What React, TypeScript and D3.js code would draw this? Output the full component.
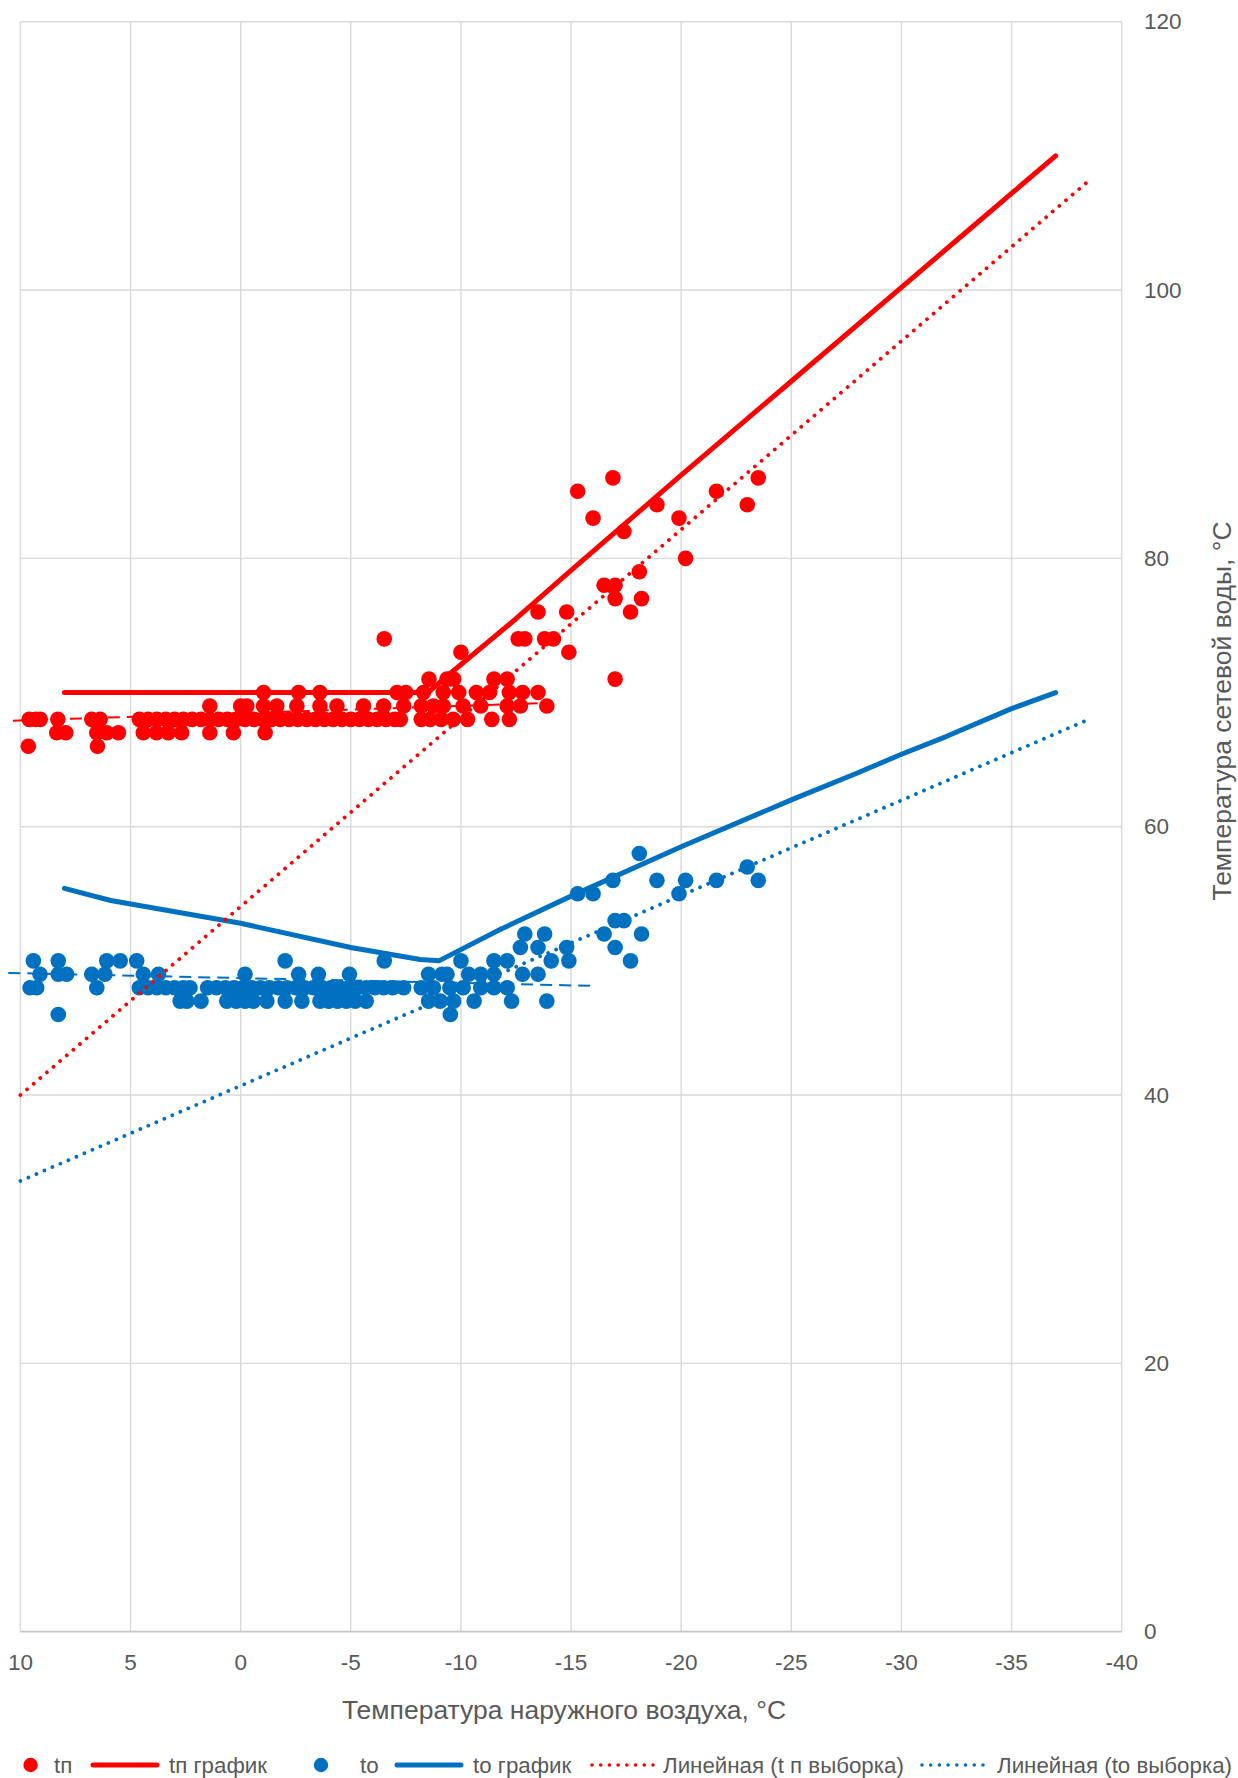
import React from "react";
import * as d3 from "d3";

// ---- Data ----
const X_TICKS = [10, 5, 0, -5, -10, -15, -20, -25, -30, -35, -40];
const Y_TICKS = [0, 20, 40, 60, 80, 100, 120];

// tп (supply water, measured sample) [outdoor t, water t]
const SUPPLY_POINTS: [number, number][] = [
  [9.64, 66], [6.5, 66],
  [8.35, 67], [7.94, 67], [6.53, 67], [6.08, 67], [5.55, 67], [4.42, 67], [3.82, 67], [3.29, 67], [2.68, 67], [1.4, 67], [0.33, 67], [-1.11, 67],
  [9.6, 68], [9.3, 68], [9.1, 68], [8.3, 68], [6.76, 68], [6.38, 68],
  [4.6, 68], [4.2, 68], [3.8, 68], [3.4, 68], [3.0, 68], [2.6, 68], [2.2, 68], [1.8, 68], [1.4, 68], [1.0, 68], [0.6, 68], [0.2, 68],
  [-0.2, 68], [-0.6, 68], [-1.0, 68], [-1.4, 68], [-1.8, 68], [-2.2, 68], [-2.6, 68], [-3.0, 68], [-3.4, 68], [-3.8, 68], [-4.2, 68],
  [-4.6, 68], [-5.0, 68], [-5.4, 68], [-5.8, 68], [-6.2, 68], [-6.6, 68], [-7.0, 68], [-7.25, 68], [-8.2, 68], [-8.6, 68], [-9.1, 68],
  [-9.65, 68], [-10.3, 68], [-11.4, 68], [-12.2, 68],
  [1.4, 69], [0.0, 69], [-0.28, 69], [-1.04, 69], [-1.64, 69], [-2.55, 69], [-3.6, 69], [-4.37, 69], [-5.58, 69], [-6.49, 69],
  [-7.4, 69], [-8.2, 69], [-8.75, 69], [-9.2, 69], [-10.1, 69], [-10.9, 69], [-12.1, 69], [-12.7, 69], [-13.9, 69],
  [-1.04, 70], [-2.63, 70], [-3.6, 70], [-7.1, 70], [-7.5, 70], [-8.3, 70], [-9.2, 70], [-9.9, 70], [-10.7, 70], [-11.3, 70],
  [-12.2, 70], [-12.8, 70], [-13.5, 70],
  [-8.55, 71], [-9.37, 71], [-9.67, 71], [-11.5, 71], [-12.1, 71], [-17.0, 71],
  [-10.0, 73], [-14.9, 73],
  [-6.52, 74], [-12.6, 74], [-12.9, 74], [-13.8, 74], [-14.2, 74],
  [-13.5, 76], [-14.8, 76], [-17.7, 76],
  [-17.0, 77], [-18.2, 77],
  [-16.5, 78], [-17.0, 78],
  [-18.1, 79],
  [-20.2, 80],
  [-17.4, 82],
  [-16.0, 83], [-19.9, 83],
  [-18.9, 84], [-23.0, 84],
  [-15.3, 85], [-21.6, 85],
  [-16.9, 86], [-23.5, 86],
];

// tп график (supply schedule)
const SUPPLY_SCHEDULE: [number, number][] = [
  [8, 70], [-8.5, 70], [-9.5, 71.4], [-12.5, 75.5], [-15, 79.1], [-20, 86.2],
  [-25, 93.2], [-30, 100.2], [-33, 104.4], [-35, 107.2], [-37, 110],
];

// to (return water, measured sample)
const RETURN_POINTS: [number, number][] = [
  [8.28, 46], [-9.52, 46],
  [2.75, 47], [2.44, 47], [1.8, 47], [0.63, 47], [0.2, 47], [-0.2, 47], [-0.58, 47], [-1.19, 47], [-2.02, 47], [-2.78, 47],
  [-3.6, 47], [-4.0, 47], [-4.4, 47], [-4.8, 47], [-5.2, 47], [-5.7, 47], [-8.53, 47], [-9.06, 47], [-9.67, 47], [-10.6, 47],
  [-12.3, 47], [-13.9, 47],
  [9.56, 48], [9.26, 48], [6.53, 48], [4.6, 48], [4.2, 48], [3.8, 48], [3.4, 48], [3.0, 48], [2.6, 48], [2.3, 48],
  [1.5, 48], [1.1, 48], [0.7, 48], [0.3, 48], [-0.1, 48], [-0.5, 48], [-0.9, 48], [-1.3, 48], [-1.7, 48], [-2.1, 48], [-2.5, 48],
  [-2.9, 48], [-3.3, 48], [-3.7, 48], [-4.1, 48], [-4.5, 48], [-4.9, 48], [-5.3, 48], [-5.7, 48], [-6.1, 48], [-6.5, 48],
  [-6.9, 48], [-7.4, 48], [-8.2, 48], [-8.75, 48], [-9.5, 48], [-10.1, 48], [-10.9, 48], [-11.5, 48], [-12.1, 48],
  [9.11, 49], [8.28, 49], [7.9, 49], [6.76, 49], [6.16, 49], [4.42, 49], [3.73, 49], [-0.2, 49], [-2.63, 49], [-3.53, 49],
  [-4.94, 49], [-8.53, 49], [-9.14, 49], [-9.37, 49], [-10.35, 49], [-10.9, 49], [-11.5, 49], [-12.8, 49], [-13.5, 49],
  [9.41, 50], [8.28, 50], [6.08, 50], [5.47, 50], [4.72, 50], [-2.02, 50], [-6.52, 50], [-10.0, 50], [-11.5, 50], [-12.1, 50],
  [-14.1, 50], [-14.9, 50], [-17.7, 50],
  [-12.7, 51], [-13.5, 51], [-14.8, 51], [-17.0, 51],
  [-12.9, 52], [-13.8, 52], [-16.5, 52], [-18.2, 52],
  [-17.0, 53], [-17.4, 53],
  [-15.3, 55], [-16.0, 55], [-19.9, 55],
  [-16.9, 56], [-18.9, 56], [-20.2, 56], [-21.6, 56], [-23.5, 56],
  [-23.0, 57],
  [-18.1, 58],
];

// to график (return schedule)
const RETURN_SCHEDULE: [number, number][] = [
  [8, 55.4], [5.9, 54.5], [0, 52.8], [-5, 51.0], [-8.15, 50.1], [-9, 50.0], [-11.8, 52.35],
  [-15.1, 54.9], [-20, 58.5], [-25, 62.0], [-28, 64.0], [-30, 65.4], [-32, 66.7], [-35, 68.8], [-37, 70.0],
];

// Linear trends: whole-sample (dotted) and part-sample (dashed) [t, value] end points
const SUPPLY_TREND: [number, number][] = [[10, 40], [-38.4, 108]];
const RETURN_TREND: [number, number][] = [[10, 33.6], [-38.5, 68.0]];
const SUPPLY_TREND_PART: [number, number][] = [[10.34, 67.9], [-13.6, 69.2]];
const RETURN_TREND_PART: [number, number][] = [[10.55, 49.1], [-15.9, 48.14]];

const X_TITLE = "Температура наружного воздуха, °C";
const Y_TITLE = "Температура сетевой воды, °C";

const LEGEND = [
  { kind: "dot", color: "#FF0000", label: "tп" },
  { kind: "line", color: "#FF0000", label: "tп график" },
  { kind: "dot", color: "#0070C0", label: "to" },
  { kind: "line", color: "#0070C0", label: "to график" },
  { kind: "dotted", color: "#FF0000", label: "Линейная (t п выборка)" },
  { kind: "dotted", color: "#0070C0", label: "Линейная (to выборка)" },
];

// ---- Layout ----
const W = 1238;
const H = 1778;
const PLOT = { left: 20.4, right: 1121.7, top: 21.7, bottom: 1631.7 };
const RED = "#FF0000";
const BLUE = "#0070C0";
const GRID = "#D9D9D9";
const TEXT = "#595959";
const FONT = "'Liberation Sans', Arial, sans-serif";

export default function App() {
  const x = d3.scaleLinear().domain([10, -40]).range([PLOT.left, PLOT.right]);
  const y = d3.scaleLinear().domain([0, 120]).range([PLOT.bottom, PLOT.top]);
  const line = d3
    .line<[number, number]>()
    .x((d) => x(d[0]))
    .y((d) => y(d[1]));

  // legend layout (start x of marker, start x of text)
  const legendPos = [
    { mx: 30.6, tx: 54 },
    { mx: 93, tx: 169 },
    { mx: 321, tx: 360 },
    { mx: 397, tx: 473 },
    { mx: 592, tx: 663 },
    { mx: 922, tx: 997 },
  ];
  const legendY = 1765;

  return (
    <svg
      width={W}
      height={H}
      style={{ position: "absolute", left: 0, top: 0, background: "#fff" }}
      fontFamily={FONT}
    >
      <rect x={0} y={0} width={W} height={H} fill="#fff" />
      {/* grid */}
      {X_TICKS.map((t) => (
        <line key={"gx" + t} x1={x(t)} x2={x(t)} y1={y(120)} y2={y(0)} stroke={GRID} strokeWidth={1.4} />
      ))}
      {Y_TICKS.map((v) => (
        <line
          key={"gy" + v}
          x1={PLOT.left}
          x2={PLOT.right}
          y1={y(v)}
          y2={y(v)}
          stroke={v === 0 ? "#C8C8C8" : GRID}
          strokeWidth={v === 0 ? 1.8 : 1.4}
        />
      ))}

      {/* x tick labels */}
      {X_TICKS.map((t) => (
        <text key={"tx" + t} x={x(t)} y={1662} textAnchor="middle" dominantBaseline="central" fontSize={22.5} fill={TEXT}>
          {String(t)}
        </text>
      ))}
      {/* y tick labels (right side) */}
      {Y_TICKS.map((v) => (
        <text key={"ty" + v} x={1144} y={y(v)} textAnchor="start" dominantBaseline="central" fontSize={22.5} fill={TEXT}>
          {String(v)}
        </text>
      ))}

      {/* axis titles */}
      <text x={564} y={1710} textAnchor="middle" dominantBaseline="central" fontSize={26.5} fill={TEXT}>
        {X_TITLE}
      </text>
      <text
        transform={`translate(1222,711) rotate(-90)`}
        textAnchor="middle"
        dominantBaseline="central"
        fontSize={26.5}
        fill={TEXT}
      >
        {Y_TITLE}
      </text>

      {/* scatter */}
      {SUPPLY_POINTS.map((d, i) => (
        <circle key={"sp" + i} cx={x(d[0])} cy={y(d[1])} r={7.8} fill={RED} />
      ))}
      {RETURN_POINTS.map((d, i) => (
        <circle key={"rp" + i} cx={x(d[0])} cy={y(d[1])} r={7.8} fill={BLUE} />
      ))}

      {/* schedules */}
      <path d={line(SUPPLY_SCHEDULE) || ""} fill="none" stroke={RED} strokeWidth={5} strokeLinejoin="round" strokeLinecap="round" />
      <path d={line(RETURN_SCHEDULE) || ""} fill="none" stroke={BLUE} strokeWidth={5} strokeLinejoin="round" strokeLinecap="round" />

      {/* trends */}
      <path d={line(SUPPLY_TREND_PART) || ""} fill="none" stroke={RED} strokeWidth={2} strokeDasharray="12 7" />
      <path d={line(RETURN_TREND_PART) || ""} fill="none" stroke={BLUE} strokeWidth={2} strokeDasharray="12 7" />
      <path d={line(SUPPLY_TREND) || ""} fill="none" stroke={RED} strokeWidth={3.8} strokeDasharray="0.01 8.7" strokeLinecap="round" />
      <path d={line(RETURN_TREND) || ""} fill="none" stroke={BLUE} strokeWidth={3.8} strokeDasharray="0.01 8.7" strokeLinecap="round" />

      {/* legend */}
      {LEGEND.map((item, i) => {
        const p = legendPos[i];
        return (
          <g key={"lg" + i}>
            {item.kind === "dot" && <circle cx={p.mx} cy={legendY} r={7.2} fill={item.color} />}
            {item.kind === "line" && (
              <line x1={p.mx} x2={p.mx + 64} y1={legendY} y2={legendY} stroke={item.color} strokeWidth={5} strokeLinecap="round" />
            )}
            {item.kind === "dotted" && (
              <line
                x1={p.mx}
                x2={p.mx + 62}
                y1={legendY}
                y2={legendY}
                stroke={item.color}
                strokeWidth={3.6}
                strokeDasharray="0.01 8.7"
                strokeLinecap="round"
              />
            )}
            <text x={p.tx} y={legendY} dominantBaseline="central" fontSize={22.3} fill={TEXT}>
              {item.label}
            </text>
          </g>
        );
      })}
    </svg>
  );
}
